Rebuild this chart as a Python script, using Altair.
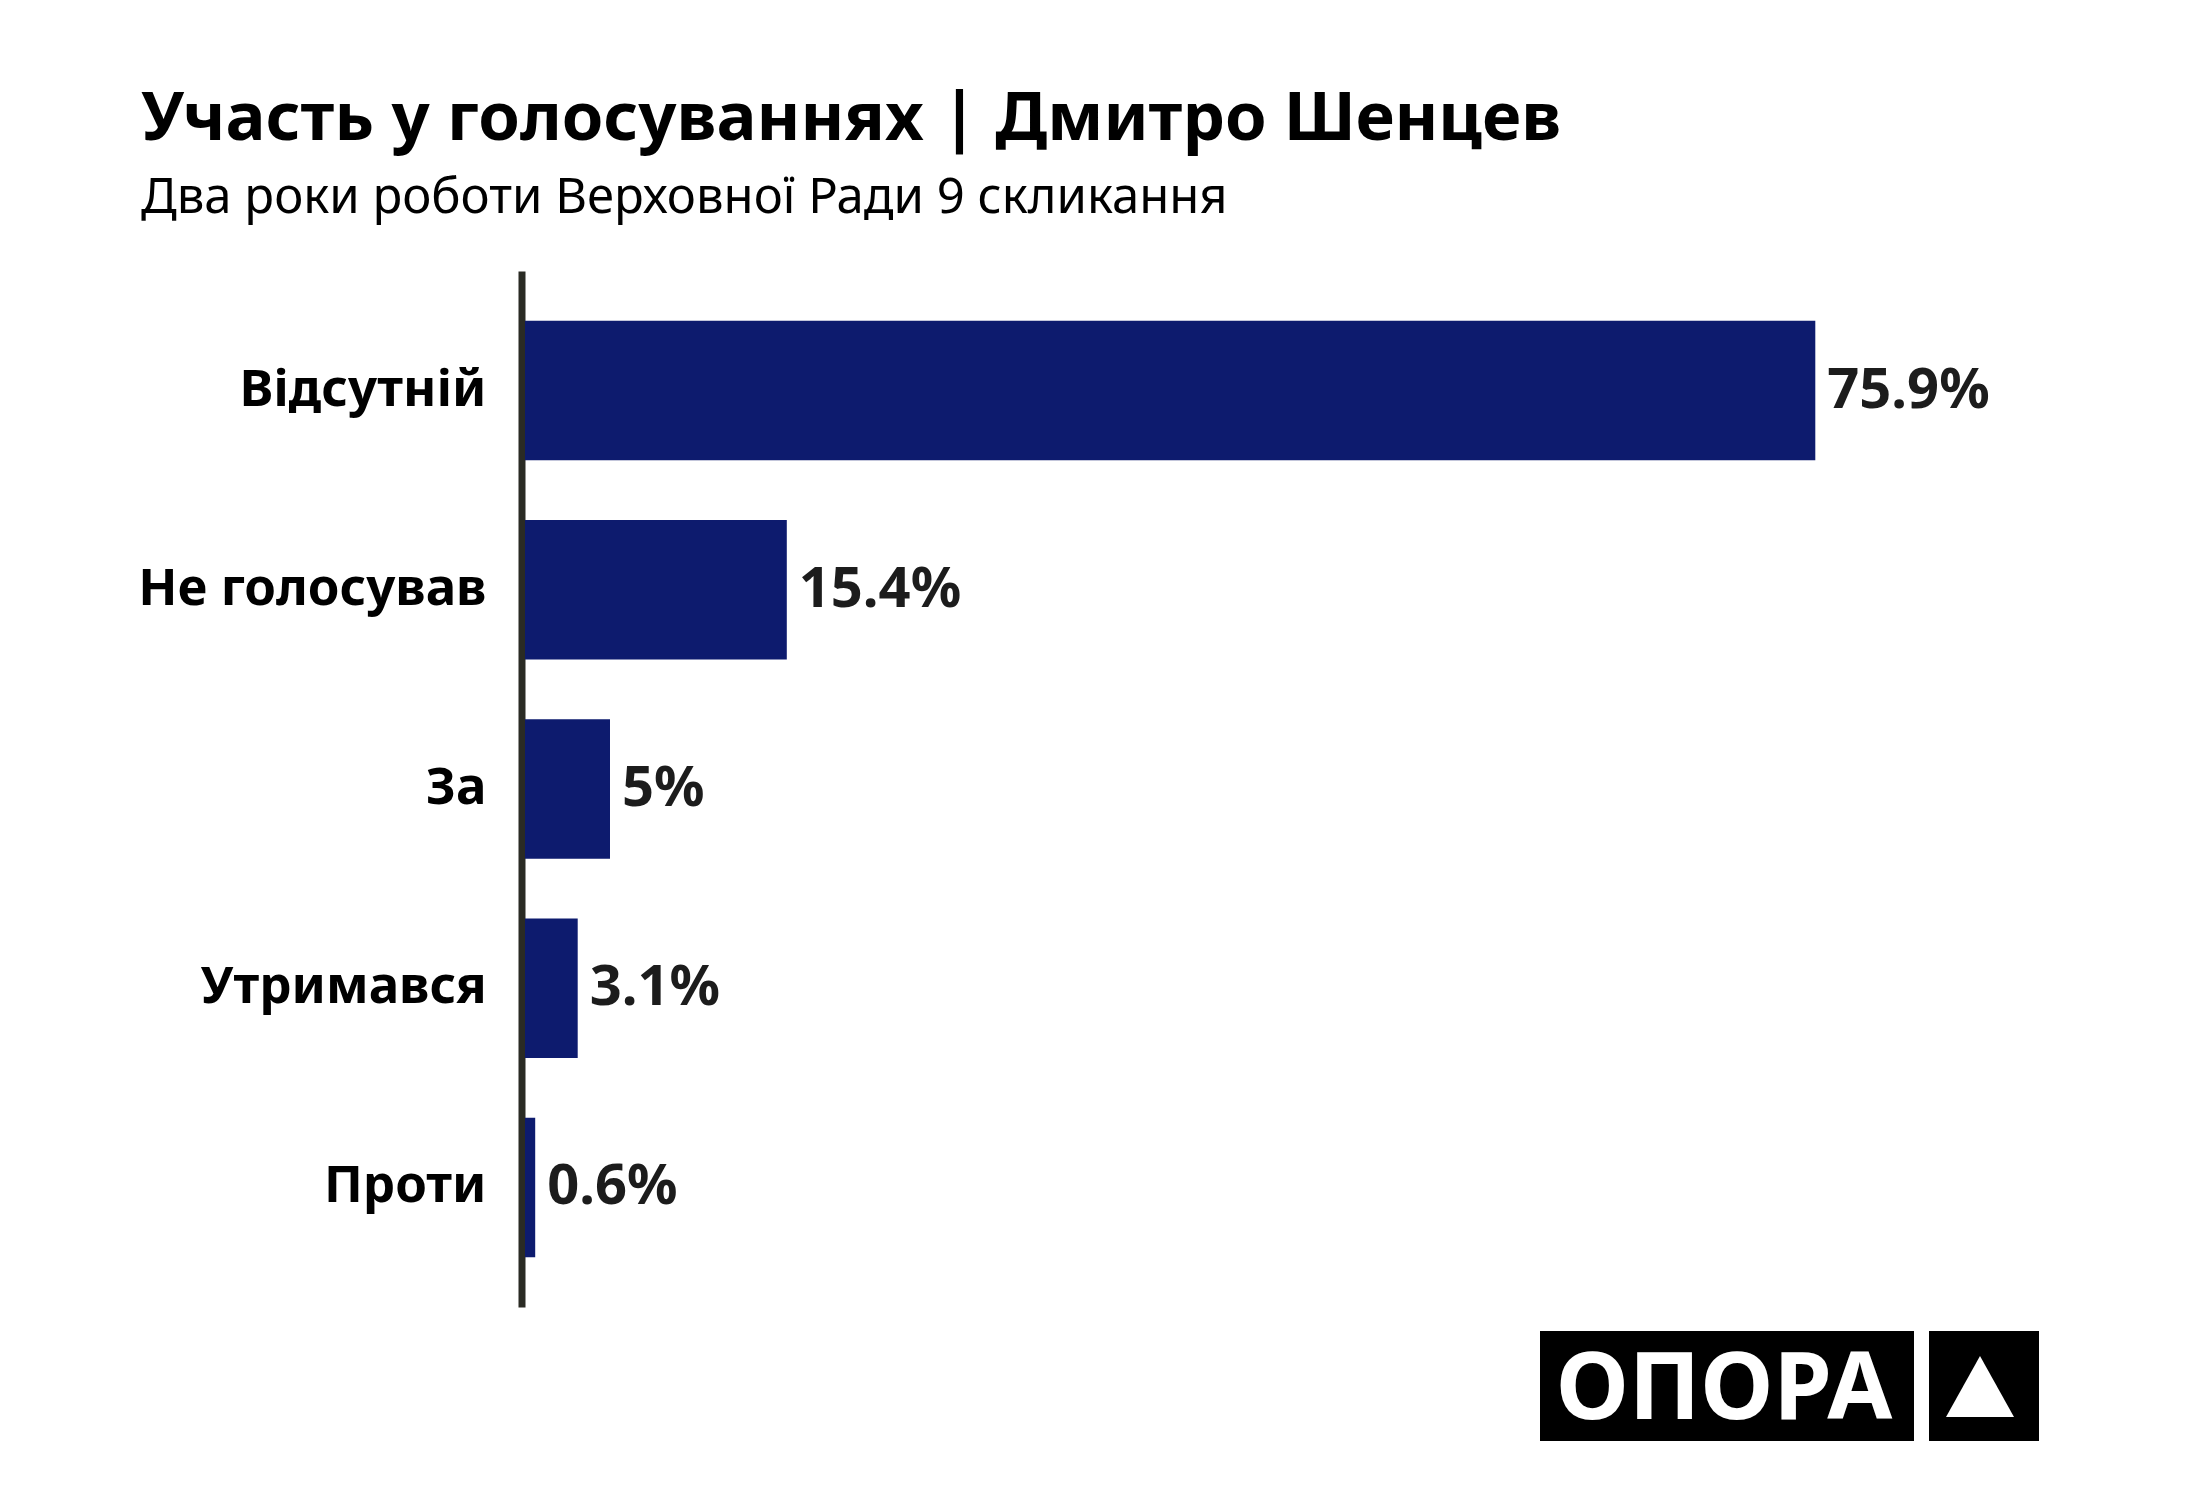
import altair as alt
import pandas as pd

categories = ["Відсутній", "Не голосував", "За", "Утримався", "Проти"]
values = [75.9, 15.4, 5.0, 3.1, 0.6]

title_text = "Участь у голосуваннях | Дмитро Шенцев"
subtitle_text = "Два роки роботи Верховної Ради 9 скликання"
logo_text = "ОПОРА"

df = pd.DataFrame({"category": categories, "value": values})

FONT = "Noto Sans"
BAR = "#0d1b6e"

y_enc = alt.Y(
    "category:N",
    sort=categories,
    scale=alt.Scale(paddingInner=0.3, paddingOuter=0.25),
    axis=alt.Axis(
        title=None,
        ticks=False,
        tickSize=0,
        labelPadding=35.5,
        offset=3.5,
        domainColor="#2a2b24",
        domainWidth=7,
        labelFontSize=51,
        labelFontWeight="bold",
        labelColor="#000000",
        labelFont=FONT,
        labelLimit=1000,
        grid=False,
    ),
)
x_enc = alt.X("value:Q", scale=alt.Scale(domain=[0, 80]), axis=None)

base = alt.Chart(df)

bars = base.mark_bar(color=BAR).encode(x=x_enc, y=y_enc)

labels = base.transform_calculate(
    label="format(datum.value, '.1~f') + '%'"
).mark_text(
    align="left", baseline="middle", dx=12, fontSize=56, fontWeight="bold",
    color="#1c1c1c", font=FONT
).encode(x=x_enc, y=y_enc, text="label:N")

logo_df = pd.DataFrame({"logo": [logo_text]})
logo_base = alt.Chart(logo_df)

box1 = logo_base.mark_rect(color="#000000").encode(
    x=alt.value(1015), x2=alt.value(1389), y=alt.value(1060), y2=alt.value(1170)
)
box2 = logo_base.mark_rect(color="#000000").encode(
    x=alt.value(1404), x2=alt.value(1514), y=alt.value(1060), y2=alt.value(1170)
)
logo_label = logo_base.mark_text(
    align="center", baseline="alphabetic", fontSize=94, fontWeight="bold",
    color="#ffffff", font=FONT
).encode(x=alt.value(1199), y=alt.value(1148), text="logo:N")
tri = logo_base.mark_point(
    shape="M0,-0.9L-1,0.9L1,0.9Z", filled=True, color="#ffffff", opacity=1, size=4624
).encode(x=alt.value(1455), y=alt.value(1115.5))

chart = alt.layer(bars, labels, box1, box2, logo_label, tri).properties(
    width=1360,
    height=1036,
    background="#ffffff",
    title=alt.TitleParams(
        text=title_text,
        subtitle=subtitle_text,
        anchor="start",
        frame="group",
        dx=-384,
        offset=46.7,
        fontSize=67,
        fontWeight="bold",
        font=FONT,
        color="#000000",
        subtitleFontSize=49,
        subtitleFont=FONT,
        subtitleFontWeight="normal",
        subtitleColor="#000000",
        subtitlePadding=20.2,
    ),
    autosize=alt.AutoSizeParams(type="none"),
    padding={"left": 517, "top": 263, "right": 303, "bottom": 181},
).configure_view(stroke="transparent", strokeWidth=0)

chart.save("out.html", embed_options={"renderer": "svg", "actions": False})
